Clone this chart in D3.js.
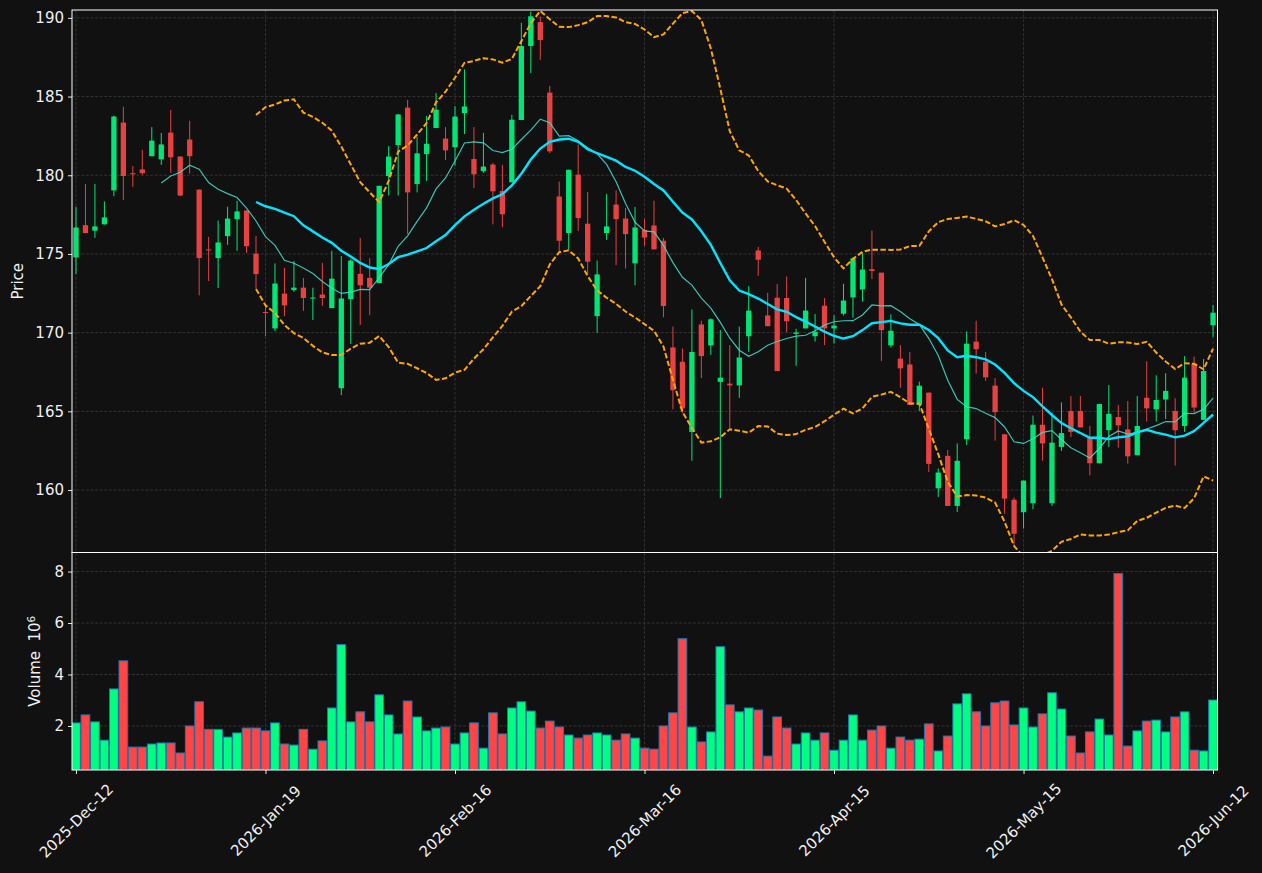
<!DOCTYPE html>
<html>
<head>
<meta charset="utf-8">
<script src="https://cdn.jsdelivr.net/npm/d3@7"></script>
<style>
  body { margin: 0; background: #111111; }
  svg { display: block; font-family: "DejaVu Sans", sans-serif; }
</style>
</head>
<body>
<div id="chart"></div>
<script>
// tick labels on the date axis (every 20th session)
const tickIndex = [0, 20, 40, 60, 80, 100, 120];
const tickLabels = ["2025-Dec-12", "2026-Jan-19", "2026-Feb-16", "2026-Mar-16",
                    "2026-Apr-15", "2026-May-15", "2026-Jun-12"];

const opens = [
  174.78,176.83,176.48,176.88,179.04,183.35,180.13,180.37,181.21,181.01,
  182.71,181.19,182.27,179.09,175.29,174.74,176.13,177.21,177.76,175.02,
  171.31,170.27,172.48,172.70,172.86,172.20,172.42,171.56,166.47,172.13,
  173.74,173.48,173.15,179.95,181.92,184.30,179.44,181.34,183.00,182.33,
  181.78,183.95,181.03,180.26,180.68,179.00,179.55,183.51,188.21,189.73,
  185.25,178.65,176.33,180.04,176.92,171.05,176.33,178.14,177.25,174.40,
  176.53,176.81,175.84,169.06,168.15,163.69,170.52,169.19,166.87,166.76,
  166.65,169.77,175.22,171.09,172.22,172.20,169.92,170.27,169.77,171.71,
  170.27,171.20,172.24,172.75,174.03,173.81,169.19,168.35,167.98,165.41,
  166.19,160.11,162.17,158.99,163.23,169.43,168.15,166.63,163.54,159.38,
  158.59,159.16,164.15,159.16,162.74,165.02,165.02,163.32,161.70,163.80,
  164.64,163.85,162.21,165.86,165.13,165.75,165.02,164.07,168.04,164.46,
  170.47];
const highs = [
  178.00,179.44,179.44,178.34,183.79,184.35,180.59,181.61,183.06,182.69,
  184.15,181.19,183.46,179.09,176.08,177.12,178.00,178.38,177.76,176.15,
  171.71,174.40,174.12,174.54,173.48,172.86,174.43,175.20,174.87,174.70,
  176.02,174.74,179.33,181.85,183.90,184.79,182.42,183.77,185.23,183.06,
  184.39,186.73,183.06,182.69,180.79,180.66,183.84,189.69,190.40,190.09,
  185.67,179.60,180.35,181.96,178.93,174.58,178.82,179.04,177.92,177.98,
  177.23,178.38,176.02,170.38,168.99,171.47,170.76,170.91,170.16,169.21,
  170.38,172.95,175.44,172.53,173.08,173.57,170.25,173.48,171.18,172.20,
  171.11,173.10,174.80,175.07,176.48,173.81,171.16,169.21,168.77,166.89,
  166.19,161.37,162.54,162.96,170.08,170.76,168.77,167.11,163.54,159.52,
  160.60,164.73,166.50,164.91,165.57,165.97,165.97,164.07,165.46,166.67,
  165.41,165.66,165.97,168.18,167.29,167.42,165.83,168.51,168.48,168.33,
  171.75];
const lows = [
  173.72,176.30,176.02,176.88,178.67,178.42,179.26,180.02,181.21,180.66,
  180.15,178.67,180.10,172.37,173.28,172.84,175.58,175.20,175.07,172.79,
  169.77,170.10,171.05,172.59,171.38,170.80,171.71,171.56,166.03,169.28,
  170.49,171.11,173.15,178.71,178.71,176.28,178.91,179.64,183.00,180.97,
  180.60,182.62,179.18,180.15,176.88,176.70,179.55,183.51,186.49,187.33,
  181.41,175.18,175.29,176.46,173.74,169.99,175.88,174.29,174.07,173.01,
  175.51,175.29,170.98,165.13,164.91,161.86,167.11,168.59,159.49,163.91,
  165.86,168.77,173.61,170.41,167.56,170.03,167.89,170.27,169.43,169.21,
  169.32,171.09,170.94,171.97,173.41,168.20,169.06,166.50,165.41,165.02,
  161.15,159.56,158.99,158.61,162.87,167.40,166.94,163.14,158.50,156.51,
  157.55,158.79,161.86,158.99,162.48,163.36,163.98,160.93,161.70,162.74,
  162.70,161.68,162.21,164.35,164.35,164.51,161.55,163.69,164.91,164.46,
  169.72];
const closes = [
  176.68,176.33,176.75,177.32,183.73,179.95,180.06,180.13,182.20,181.96,
  181.14,178.71,181.21,174.74,175.24,175.73,177.25,177.70,175.49,173.72,
  171.25,173.12,171.73,172.86,172.20,172.23,172.20,173.43,172.17,174.58,
  173.01,172.86,179.33,181.19,183.86,178.91,181.39,182.00,184.17,181.58,
  183.73,184.37,180.06,180.55,178.98,177.52,183.53,188.21,190.10,188.59,
  181.52,175.84,180.35,177.28,174.51,173.70,176.75,177.21,176.26,176.68,
  176.04,175.29,171.69,166.34,165.19,168.77,168.51,170.85,167.14,166.65,
  168.42,171.40,174.63,170.41,167.56,170.72,170.01,171.40,170.05,170.27,
  170.45,172.04,174.71,174.01,173.92,170.16,170.12,167.73,165.41,166.63,
  161.66,161.11,158.99,161.86,169.30,168.95,167.16,164.95,159.45,157.22,
  160.60,164.15,162.96,163.01,163.62,163.69,163.98,161.70,165.46,164.84,
  164.11,162.14,164.07,165.19,165.72,166.30,163.80,167.14,165.24,167.56,
  171.27];
// volume in millions
const volumes = [
  2.12,2.43,2.16,1.45,3.44,4.53,1.18,1.18,1.30,1.34,
  1.34,0.95,2.00,2.94,1.87,1.87,1.57,1.73,1.92,1.92,
  1.81,2.12,1.30,1.26,1.87,1.10,1.42,2.70,5.16,2.16,
  2.55,2.16,3.21,2.43,1.69,2.97,2.35,1.81,1.92,1.96,
  1.30,1.73,2.12,1.14,2.51,1.69,2.70,2.94,2.58,1.92,
  2.19,1.96,1.65,1.53,1.65,1.73,1.65,1.45,1.69,1.53,
  1.14,1.10,2.00,2.51,5.39,1.96,1.38,1.77,5.08,2.82,
  2.55,2.70,2.62,0.83,2.35,1.92,1.30,1.73,1.45,1.73,
  1.06,1.45,2.43,1.45,1.84,2.00,1.14,1.57,1.45,1.49,
  2.08,1.03,1.61,2.86,3.25,2.55,2.00,2.90,2.97,2.04,
  2.70,1.96,2.47,3.29,2.66,1.61,0.95,1.77,2.27,1.65,
  7.92,1.22,1.81,2.19,2.23,1.77,2.35,2.55,1.06,1.03,
  3.01];

const priceTicks = [160, 165, 170, 175, 180, 185, 190];
const volumeTicks = [2, 4, 6, 8];

// layout
const W = 1262, H = 873;
const left = 72, right = 1217.5;
const pTop = 10, pBottom = 552.5, vTop = 552.5, vBottom = 770;
const BG = "#111111", GRID = "#3a3a3a", FG = "#ffffff", TXT = "#f0f0f0";
const UP = "#00e676", DOWN = "#e84141", UPV = "#00ff80", DOWNV = "#ff4545";
const FONT = "15px";

const svg = d3.select("#chart").append("svg")
    .attr("width", W).attr("height", H)
    .style("background", BG);

const x = d3.scaleLinear().domain([-0.42, 120.47]).range([left, right]);
const y = d3.scaleLinear().domain([156.03, 190.5]).range([pBottom, pTop]);
const yv = d3.scaleLinear().domain([0.29, 8.74]).range([vBottom, vTop]);
const step = x(1) - x(0);

// clip paths
const defs = svg.append("defs");
defs.append("clipPath").attr("id", "clipP").append("rect")
    .attr("x", left).attr("y", pTop).attr("width", right - left).attr("height", pBottom - pTop);
defs.append("clipPath").attr("id", "clipV").append("rect")
    .attr("x", left).attr("y", vTop).attr("width", right - left).attr("height", vBottom - vTop);

// grids
const grid = svg.append("g")
    .attr("stroke", GRID).attr("stroke-width", 0.8).attr("stroke-dasharray", "3,1.6");
grid.selectAll(".gy").data(priceTicks).enter().append("line")
    .attr("x1", left).attr("x2", right)
    .attr("y1", d => y(d)).attr("y2", d => y(d));
grid.selectAll(".gv").data(volumeTicks).enter().append("line")
    .attr("x1", left).attr("x2", right)
    .attr("y1", d => yv(d)).attr("y2", d => yv(d));
grid.selectAll(".gx").data(tickIndex).enter().append("line")
    .attr("x1", d => x(d)).attr("x2", d => x(d))
    .attr("y1", pTop).attr("y2", vBottom);

// data rows
const rows = opens.map((o, i) => ({
  i: i, o: o, h: highs[i], l: lows[i], c: closes[i], v: volumes[i], up: closes[i] >= o
}));

// rolling indicators from closes
function rolling(n, fn) {
  return closes.map((c, i) => i < n - 1 ? null : fn(closes.slice(i - n + 1, i + 1)));
}
const sma10 = rolling(10, a => d3.mean(a));
const sma20 = rolling(20, a => d3.mean(a));
const sd20 = rolling(20, a => { const m = d3.mean(a); return Math.sqrt(d3.mean(a, v => (v - m) * (v - m))); });
const upper = sma20.map((m, i) => m == null ? null : m + 2 * sd20[i]);
const lower = sma20.map((m, i) => m == null ? null : m - 2 * sd20[i]);

// candles
const pg = svg.append("g").attr("clip-path", "url(#clipP)");
const candle = pg.selectAll(".c").data(rows).enter().append("g");
candle.append("line")
    .attr("x1", d => x(d.i)).attr("x2", d => x(d.i))
    .attr("y1", d => y(d.h)).attr("y2", d => y(d.l))
    .attr("stroke", d => d.up ? UP : DOWN).attr("stroke-width", 1);
candle.append("rect")
    .attr("x", d => x(d.i) - step * 0.28)
    .attr("width", step * 0.56)
    .attr("y", d => y(Math.max(d.o, d.c)))
    .attr("height", d => Math.max(1, Math.abs(y(d.o) - y(d.c))))
    .attr("fill", d => d.up ? UP : DOWN);

// indicator lines
const line = d3.line().defined(d => d != null).x((d, i) => x(i)).y(d => y(d));
pg.append("path").datum(sma10).attr("d", line)
    .attr("fill", "none").attr("stroke", "#40e0d0").attr("stroke-opacity", 0.85).attr("stroke-width", 1.2);
pg.append("path").datum(sma20).attr("d", line)
    .attr("fill", "none").attr("stroke", "#00e5ff").attr("stroke-width", 2.4);
[upper, lower].forEach(band => {
  pg.append("path").datum(band).attr("d", line)
      .attr("fill", "none").attr("stroke", "#ffa500").attr("stroke-width", 2)
      .attr("stroke-dasharray", "5.5,2.4");
});

// volume bars
const vg = svg.append("g").attr("clip-path", "url(#clipV)");
vg.selectAll(".v").data(rows).enter().append("rect")
    .attr("x", d => x(d.i) - step * 0.46)
    .attr("width", step * 0.92)
    .attr("y", d => yv(d.v))
    .attr("height", d => vBottom - yv(d.v) + 2)
    .attr("fill", d => d.up ? UPV : DOWNV)
    .attr("stroke", "#1f77b4").attr("stroke-width", 1);

// axes
function styleAxis(g) {
  g.select(".domain").remove();
  g.selectAll(".tick line").attr("stroke", FG).attr("stroke-width", 0.9);
  g.selectAll(".tick text").attr("fill", TXT).style("font-size", FONT)
      .style("font-family", "'DejaVu Sans', sans-serif");
}
svg.append("g").attr("transform", `translate(${left},0)`)
    .call(d3.axisLeft(y).tickValues(priceTicks).tickSize(4).tickPadding(4))
    .call(styleAxis);
svg.append("g").attr("transform", `translate(${left},0)`)
    .call(d3.axisLeft(yv).tickValues(volumeTicks).tickSize(4).tickPadding(4))
    .call(styleAxis);
const xa = svg.append("g").attr("transform", `translate(0,${vBottom})`)
    .call(d3.axisBottom(x).tickValues(tickIndex)
      .tickFormat((d, i) => tickLabels[i]).tickSize(4).tickPadding(4))
    .call(styleAxis);
xa.selectAll(".tick text")
    .attr("y", 0).attr("dy", 0)
    .attr("text-anchor", "middle").attr("dominant-baseline", "central")
    .attr("transform", "translate(0,51) rotate(-45)");

// frames
[[pTop, pBottom], [vTop, vBottom]].forEach(([t, b]) => {
  svg.append("rect").attr("x", left).attr("y", t)
      .attr("width", right - left).attr("height", b - t)
      .attr("fill", "none").attr("stroke", FG).attr("stroke-width", 1);
});

// axis titles
svg.append("text")
    .attr("transform", `translate(23,${(pTop + pBottom) / 2}) rotate(-90)`)
    .attr("text-anchor", "middle").attr("fill", TXT).style("font-size", FONT)
    .text("Price");
const vl = svg.append("text")
    .attr("transform", `translate(40,${(vTop + vBottom) / 2}) rotate(-90)`)
    .attr("text-anchor", "middle").attr("fill", TXT).style("font-size", FONT);
vl.append("tspan").text("Volume\u00a0\u00a010");
vl.append("tspan").attr("dy", "-0.45em").style("font-size", "10.5px").text("6");
</script>
</body>
</html>
